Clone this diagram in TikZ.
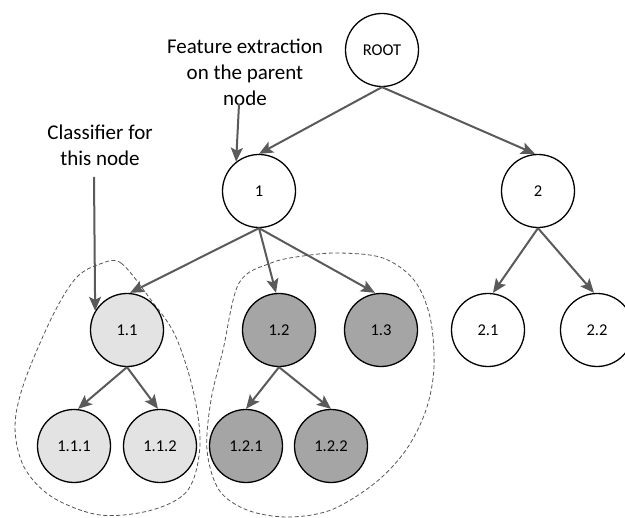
\documentclass[tikz,border=0pt]{standalone}
\usepackage{fontspec}
\setmainfont{Carlito}
\usetikzlibrary{arrows.meta}
\definecolor{edgegray}{HTML}{5A5A5A}
\definecolor{lightfill}{HTML}{E3E3E3}
\definecolor{darkfill}{HTML}{A4A5A4}
\definecolor{dashgray}{HTML}{555555}
\tikzset{
  tnode/.style={circle, draw=black, line width=1.3pt, minimum size=73pt, inner sep=0pt,
    font=\fontsize{16.5}{19}\selectfont},
  light/.style={tnode, fill=lightfill},
  dark/.style={tnode, fill=darkfill},
  arr/.style={draw=edgegray, line width=2pt, -{Stealth[length=14pt,width=12pt,inset=3pt]}},
  note/.style={align=center, font=\fontsize{21}{26}\selectfont, inner sep=0pt},
  group/.style={draw=dashgray, line width=0.8pt, dash pattern=on 4pt off 2.5pt}
}
\begin{document}
\begin{tikzpicture}[x=1pt,y=-1pt]
\useasboundingbox (0,0) rectangle (625,518);
% group outlines
\draw[group] plot[smooth cycle, tension=0.55] coordinates {
  (100,264) (121,263) (151,300) (175,335) (193,390) (200,445) (188,490) (152,510)
  (100,515) (52,497) (24,467) (15,427) (24,383) (52,317) (76,278)};
\draw[group] plot[smooth cycle, tension=0.55] coordinates {
  (271,263) (303,256) (339,253) (383,258) (414,280) (430,317) (434,367) (426,410)
  (406,450) (375,483) (331,510) (287,517) (247,510) (219,490) (207,450) (211,400)
  (223,350) (239,283)};
% nodes
\node[tnode] (root) at (382,50) {ROOT};
\node[tnode] (n1) at (259,191) {1};
\node[tnode] (n2) at (538,191) {2};
\node[light] (n11) at (127,330) {1.1};
\node[dark] (n12) at (279,330) {1.2};
\node[dark] (n13) at (381,330) {1.3};
\node[tnode] (n21) at (488,330) {2.1};
\node[tnode] (n22) at (597,330) {2.2};
\node[light] (n111) at (74,446) {1.1.1};
\node[light] (n112) at (160,446) {1.1.2};
\node[dark] (n121) at (246,446) {1.2.1};
\node[dark] (n122) at (331,446) {1.2.2};
% annotations
\node[note] (fe) at (245,72.5) {Feature extraction\\on the parent\\node};
\node[note] (cl) at (100,145.5) {Classifier for\\this node};
\coordinate (fs) at (239,104);
\coordinate (cs) at (94,177);
% edges
\draw[arr] (root.south) -- (n1.north);
\draw[arr] (root.south) -- ([xshift=-3pt]n2.north);
\draw[arr] (n1.south) -- ([xshift=3pt]n11.north);
\draw[arr] (n1.south) -- ([xshift=-3pt]n12.north);
\draw[arr] (n1.south) -- ([xshift=-6pt]n13.north);
\draw[arr] (n2.south) -- ([xshift=5pt]n21.north);
\draw[arr] (n2.south) -- ([xshift=-3pt]n22.north);
\draw[arr] (n11.south) -- ([xshift=4pt]n111.north);
\draw[arr] (n11.south) -- ([xshift=-2pt]n112.north);
\draw[arr] (n12.south) -- (n121.north);
\draw[arr] (n12.south) -- (n122.north);
\draw[arr] (fs) -- (n1.128);
\draw[arr] (cs) -- (n11.149);
\end{tikzpicture}
\end{document}
